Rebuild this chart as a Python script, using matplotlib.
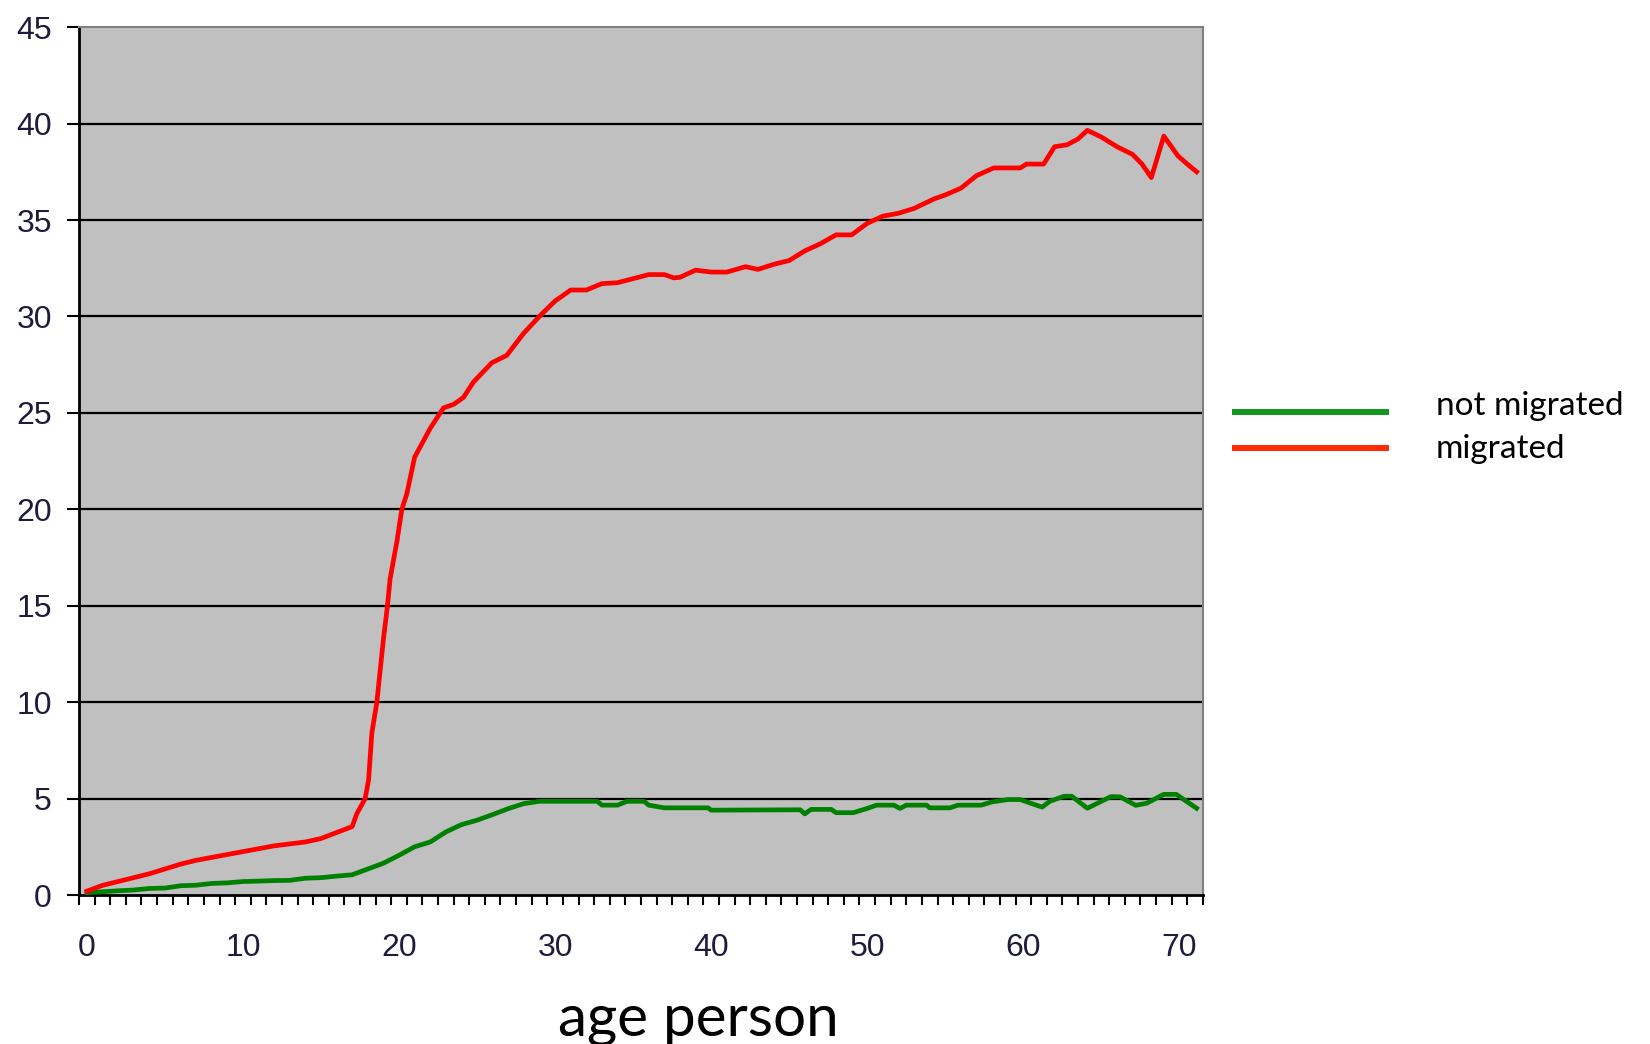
import matplotlib
matplotlib.use("Agg")
import matplotlib.pyplot as plt
from matplotlib.lines import Line2D
import numpy as np

# migrated (red)
red_age = [0, 1, 2, 3, 4, 5, 6, 7, 8, 9, 10, 11, 12, 13, 14, 15, 16, 17, 17.3, 17.83,
           18.05, 18.26, 18.58, 18.8, 19.0, 19.26, 19.43, 19.86, 20.18, 20.5, 21.0, 22.0,
           22.85, 23.5, 24.13, 24.77, 25.95, 26.9, 27.98, 29.05, 30, 31, 32, 33, 34, 35,
           36, 37, 37.6, 38, 39, 40, 41, 42.2, 43, 44, 45, 46, 47, 48, 49, 50, 51, 52, 53,
           54.3, 55, 56, 57, 58.1, 59.8, 60.2, 61.3, 62, 62.8, 63.5, 64.1, 65, 66, 67,
           67.6, 68.2, 69, 69.9, 70.5, 71.1]
red_val = [0.2, 0.5, 0.7, 0.9, 1.1, 1.35, 1.6, 1.8, 1.95, 2.1, 2.25, 2.4, 2.55, 2.65, 2.75,
           2.93, 3.24, 3.55, 4.22, 5.0, 5.96, 8.4, 10.0, 11.7, 13.25, 15.0, 16.4, 18.3, 20.0,
           20.8, 22.7, 24.2, 25.26, 25.44, 25.8, 26.6, 27.6, 27.98, 29.12, 30.05, 30.8, 31.37,
           31.37, 31.7, 31.75, 31.96, 32.17, 32.17, 32.0, 32.03, 32.4, 32.3, 32.3, 32.58,
           32.44, 32.7, 32.9, 33.4, 33.77, 34.23, 34.23, 34.83, 35.2, 35.35, 35.6, 36.1,
           36.3, 36.65, 37.3, 37.7, 37.7, 37.9, 37.9, 38.8, 38.9, 39.2, 39.65, 39.3, 38.8,
           38.4, 37.9, 37.2, 39.35, 38.33, 37.9, 37.5]

# not migrated (green)
green_age = [0, 1, 2, 3, 4, 5, 6, 7, 8, 9, 10, 11, 12, 13, 14, 15, 16, 17, 18, 19, 20, 21,
             22, 23, 24, 25, 26, 27, 28, 29, 32.7, 33, 34, 34.6, 35.7, 36, 37, 39.8, 40,
             45.7, 46, 46.4, 47.7, 48, 49.1, 50, 50.6, 51.7, 52.1, 52.5, 53.8, 54, 55.3,
             55.8, 57.3, 58, 59, 59.8, 60.4, 61.2, 61.7, 62.6, 63.1, 64.1, 65, 65.6, 66.2,
             67.2, 67.9, 69, 69.8, 70.5, 71.1]
green_val = [0.12, 0.17, 0.22, 0.26, 0.34, 0.36, 0.48, 0.51, 0.6, 0.63, 0.7, 0.72, 0.75,
             0.76, 0.87, 0.9, 0.98, 1.05, 1.35, 1.65, 2.06, 2.5, 2.75, 3.27, 3.65, 3.88,
             4.17, 4.48, 4.74, 4.86, 4.86, 4.66, 4.66, 4.86, 4.86, 4.66, 4.52, 4.52, 4.4,
             4.42, 4.21, 4.44, 4.44, 4.27, 4.27, 4.49, 4.66, 4.66, 4.49, 4.66, 4.66, 4.52,
             4.52, 4.66, 4.66, 4.83, 4.95, 4.95, 4.78, 4.56, 4.86, 5.12, 5.12, 4.5, 4.86,
             5.1, 5.09, 4.65, 4.76, 5.22, 5.22, 4.83, 4.5]

y_ticks = [0, 5, 10, 15, 20, 25, 30, 35, 40, 45]
x_ticks = [0, 10, 20, 30, 40, 50, 60, 70]
legend_labels = ["not migrated", "migrated"]

fig = plt.figure(figsize=(16.5, 10.44), dpi=100)
ax = fig.add_axes([0.0479, 0.1427, 0.729 - 0.0479, 0.974 - 0.1427])
ax.set_facecolor("#c0c0c0")

for y in y_ticks[1:-1]:
    ax.axhline(y, color="black", lw=1.6, zorder=1)

ax.plot(green_age, green_val, color="#008000", lw=3.4, zorder=3)
ax.plot(red_age, red_val, color="#ff0000", lw=3.4, zorder=3)

ax.set_xlim(-0.5, 71.5)
ax.set_ylim(0, 45)
ax.set_yticks(y_ticks)
ax.set_xticks(x_ticks)
ax.set_xticks(np.arange(-0.5, 71.6, 1), minor=True)

tick_color = "#1c1c3c"
ax.tick_params(axis="y", direction="out", length=8.6, width=1.5, pad=11,
               labelsize=23, labelcolor=tick_color)
ax.tick_params(axis="x", which="major", length=0, pad=27, labelsize=23, labelcolor=tick_color)
ax.tick_params(axis="x", which="minor", direction="out", length=7, width=1.5)
for lab in ax.get_xticklabels() + ax.get_yticklabels():
    lab.set_family("Liberation Sans")

ax.spines["left"].set_linewidth(2)
ax.spines["bottom"].set_linewidth(2)
ax.spines["top"].set_color("#808080")
ax.spines["right"].set_color("#808080")
ax.spines["top"].set_linewidth(1.5)
ax.spines["right"].set_linewidth(1.5)

# legend drawn by hand at the right
fig.add_artist(Line2D([1235 / 1650, 1386 / 1650], [1 - 412 / 1044, 1 - 412 / 1044],
                      color="#14961e", lw=4.3, transform=fig.transFigure))
fig.add_artist(Line2D([1235 / 1650, 1386 / 1650], [1 - 448 / 1044, 1 - 448 / 1044],
                      color="#ff2a00", lw=4.3, transform=fig.transFigure))
fig.text(1436 / 1650, 1 - 415 / 1044, legend_labels[0], fontsize=24, family="Lato",
         va="baseline", ha="left")
fig.text(1436 / 1650, 1 - 458 / 1044, legend_labels[1], fontsize=24, family="Lato",
         va="baseline", ha="left")

fig.text(698 / 1650, 1 - 1035 / 1044, "age person", fontsize=42, family="Lato",
         va="baseline", ha="center")

fig.savefig("out.png", dpi=100)
